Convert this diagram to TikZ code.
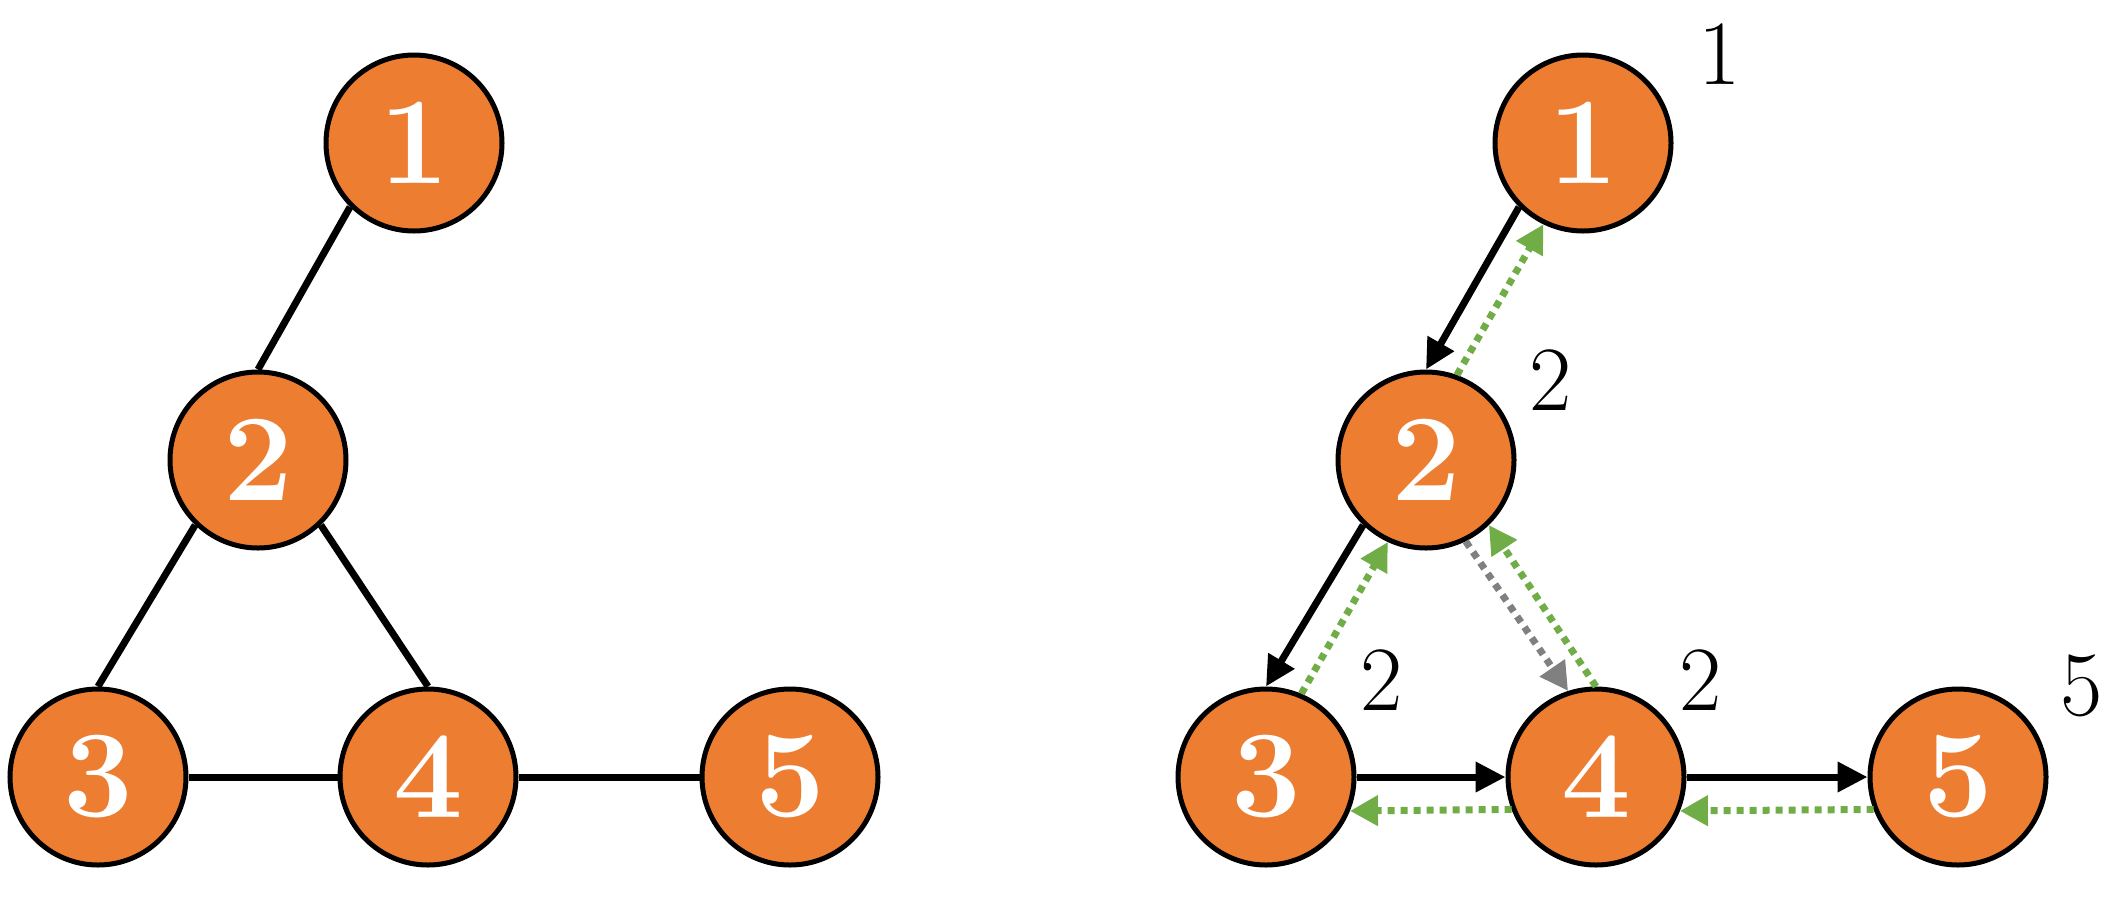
\documentclass[tikz,border=0pt]{standalone}
\usepackage{fontspec}
\usetikzlibrary{arrows.meta}
\definecolor{nodeor}{HTML}{ED7D31}
\definecolor{grn}{HTML}{70AD47}
\definecolor{gry}{HTML}{808080}
\tikzset{
 vtx/.style={circle, fill=nodeor, draw=black, line width=5pt, minimum size=176pt, inner sep=0pt, text=white, font=\fontsize{124}{124}\selectfont\bfseries},
 lab/.style={inner sep=0pt, font=\fontsize{92}{92}\selectfont},
 edge/.style={line width=7pt},
 fwd/.style={line width=7pt, -{Triangle[length=30pt,width=29pt]}},
 back/.style={line width=7pt, draw=grn, dash pattern=on 7pt off 6pt, -{Triangle[length=28pt,width=29pt,fill=grn]}},
 probe/.style={line width=7pt, draw=gry, dash pattern=on 7pt off 6pt, -{Triangle[length=28pt,width=29pt,fill=gry]}},
}
\begin{document}
\begin{tikzpicture}[x=1pt,y=1pt]
\useasboundingbox (0,0) rectangle (2117,-906);
% left graph
\node[vtx] (a1) at (414,-143) {1};
\node[vtx] (a2) at (258,-460) {2};
\node[vtx] (a3) at (98,-777) {3};
\node[vtx] (a4) at (428,-777) {4};
\node[vtx] (a5) at (790,-777) {5};
\draw[edge] (a1.225) -- (a2.90);
\draw[edge] (a2.226) -- (a3.90);
\draw[edge] (a2.314) -- (a4.90);
\draw[edge] (a3) -- (a4);
\draw[edge] (a4) -- (a5);
% right graph
\node[vtx] (b1) at (1583,-143) {1};
\node[vtx] (b2) at (1426,-460) {2};
\node[vtx] (b3) at (1266,-777) {3};
\node[vtx] (b4) at (1596,-777) {4};
\node[vtx] (b5) at (1958,-777) {5};
\node[lab] (l1) at (1720,-54) {1};
\node[lab] (l2) at (1551,-380) {2};
\node[lab] (l3) at (1382,-680) {2};
\node[lab] (l4) at (1701,-680) {2};
\node[lab] (l5) at (2082,-686) {5};
\draw[fwd] (b1.225) -- (b2.90);
\draw[fwd] (b2.226) -- (b3.90);
\draw[fwd] (b3) -- (b4);
\draw[fwd] (b4) -- (b5);
\draw[back] (b2.70) -- (b1.244);
\draw[back] (b3.67) -- (b2.245);
\draw[back] (b4.90) -- (b2.314);
\draw[probe] (b2.296) -- (b4.108);
\draw[back] (b4.201.5) -- (b3.338.5);
\draw[back] (b5.201.5) -- (b4.338.5);
\end{tikzpicture}
\end{document}
